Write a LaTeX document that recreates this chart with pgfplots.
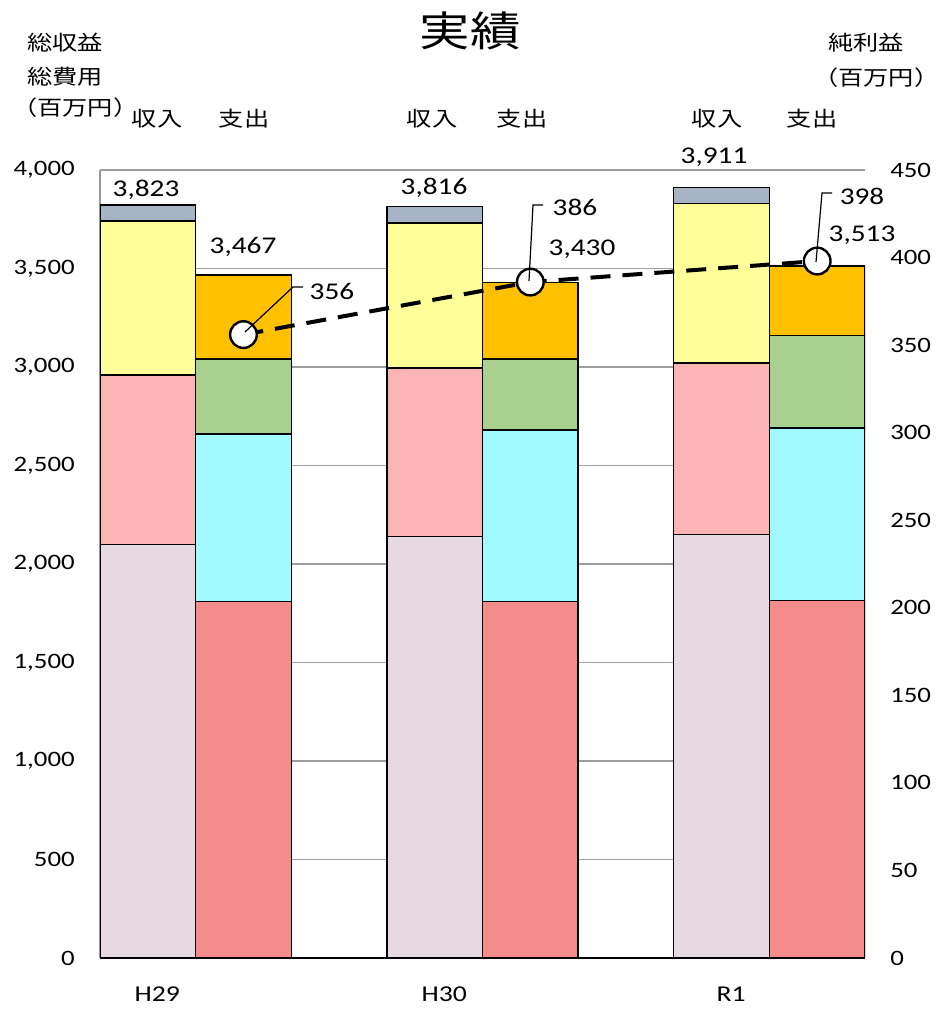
\documentclass[border=0pt]{standalone}
\usepackage{fontspec}
\setmainfont{Carlito}[FakeStretch=1.22]
\newfontfamily\jp{Noto Sans CJK JP}[FakeStretch=1.22]
\usepackage{pgfplots}
\pgfplotsset{compat=1.18}
\definecolor{cLav}{RGB}{231,217,225}
\definecolor{cPink}{RGB}{250,180,180}
\definecolor{cYel}{RGB}{255,255,153}
\definecolor{cGray}{RGB}{166,180,198}
\definecolor{cRed}{RGB}{244,140,140}
\definecolor{cCyan}{RGB}{160,250,255}
\definecolor{cGreen}{RGB}{169,208,142}
\definecolor{cOrange}{RGB}{255,192,0}
\begin{document}
\begin{tikzpicture}
\useasboundingbox (0,0) rectangle (712.5pt,756.75pt);
\begin{axis}[
  at={(75pt,38.25pt)}, anchor=south west,
  scale only axis, width=573.75pt, height=591pt,
  ybar stacked, bar width=1,
  xmin=0, xmax=8, ymin=0, ymax=4000,
  axis x line*=bottom, axis y line*=left,
  x axis line style={black, line width=1.3pt, -},
  y axis line style={black!40, line width=1pt, -},
  xtick={0.6,3.6,6.6}, xticklabels={H29,H30,R1},
  major tick length=0pt,
  ytick={0,500,...,4000},
  ymajorgrids, grid style={black!38, line width=1.1pt},
  /pgf/number format/assume math mode=true,
  /pgf/number format/1000 sep={,},
  yticklabel style={font=\fontsize{16.5}{18}\selectfont, anchor=east, inner sep=0pt, xshift=-18.75pt},
  xticklabel style={font=\fontsize{17}{18}\selectfont, anchor=north, inner sep=0pt, yshift=-21.5pt},
  every axis plot/.append style={draw=black, line width=1.1pt},
]
% x positions: 0.5 H29 income, 1.5 H29 expense, 3.5 H30 income, 4.5 H30 expense, 6.5 R1 income, 7.5 R1 expense
\addplot[fill=cLav]   coordinates {(0.5,2100)(1.5,0)(3.5,2140)(4.5,0)(6.5,2150)(7.5,0)};
\addplot[fill=cPink]  coordinates {(0.5,860)(1.5,0)(3.5,855)(4.5,0)(6.5,870)(7.5,0)};
\addplot[fill=cYel]   coordinates {(0.5,780)(1.5,0)(3.5,735)(4.5,0)(6.5,810)(7.5,0)};
\addplot[fill=cGray]  coordinates {(0.5,83)(1.5,0)(3.5,86)(4.5,0)(6.5,81)(7.5,0)};
\addplot[fill=cRed]   coordinates {(0.5,0)(1.5,1810)(3.5,0)(4.5,1810)(6.5,0)(7.5,1815)};
\addplot[fill=cCyan]  coordinates {(0.5,0)(1.5,850)(3.5,0)(4.5,870)(6.5,0)(7.5,875)};
\addplot[fill=cGreen] coordinates {(0.5,0)(1.5,380)(3.5,0)(4.5,360)(6.5,0)(7.5,470)};
\addplot[fill=cOrange] coordinates {(0.5,0)(1.5,427)(3.5,0)(4.5,390)(6.5,0)(7.5,353)};
\end{axis}
\begin{axis}[
  at={(75pt,38.25pt)}, anchor=south west,
  scale only axis, width=573.75pt, height=591pt,
  xmin=0, xmax=8, ymin=0, ymax=450,
  axis x line=none, axis y line*=right,
  y axis line style={draw=none},
  major tick length=0pt,
  ytick={0,50,...,450},
  /pgf/number format/assume math mode=true,
  yticklabel style={font=\fontsize{16.5}{18}\selectfont, anchor=west, inner sep=0pt, xshift=18.75pt},
]
\addplot[black, line width=3pt, dash pattern=on 15pt off 9pt,
  mark=*, mark size=10pt, mark options={solid, fill=white, draw=black, line width=1.8pt}]
  coordinates {(1.5,356)(4.5,386)(7.5,398)};
\end{axis}
\begin{scope}[x=0.75pt, y=-0.75pt, yshift=756.75pt]
  % title and axis titles
  \node[font=\jp\fontsize{31}{33}\selectfont] at (470,31) {実績};
  \node[font=\jp\fontsize{15.5}{17}\selectfont, anchor=west, inner sep=0pt] at (27,43) {総収益};
  \node[font=\jp\fontsize{15.5}{17}\selectfont, anchor=west, inner sep=0pt] at (27,77) {総費用};
  \node[font=\jp\fontsize{15.5}{17}\selectfont, anchor=west, inner sep=0pt] at (12,108) {（百万円）};
  \node[font=\jp\fontsize{15.5}{17}\selectfont, anchor=west, inner sep=0pt] at (828,43) {純利益};
  \node[font=\jp\fontsize{15.5}{17}\selectfont, anchor=west, inner sep=0pt] at (813,78) {（百万円）};
  % column headers
  \foreach \x/\t in {157/収入,244/支出,432/収入,522/支出,717/収入,812/支出}
    \node[font=\jp\fontsize{15.5}{17}\selectfont] at (\x,119) {\t};
  % totals
  \node[font=\fontsize{18}{20}\selectfont] at (146,190) {3,823};
  \node[font=\fontsize{18}{20}\selectfont] at (243,247) {3,467};
  \node[font=\fontsize{18}{20}\selectfont] at (434,188) {3,816};
  \node[font=\fontsize{18}{20}\selectfont] at (582,249) {3,430};
  \node[font=\fontsize{18}{20}\selectfont] at (714,157) {3,911};
  \node[font=\fontsize{18}{20}\selectfont] at (862,235) {3,513};
  % net profit labels with leaders
  \draw[black, line width=0.9pt] (245,332) -- (293,287) -- (303,287);
  \draw[black, line width=0.9pt] (529,281) -- (533,205) -- (543,205);
  \draw[black, line width=0.9pt] (816,262) -- (822,193) -- (832,193);
  \node[font=\fontsize{18}{20}\selectfont] at (332,291) {356};
  \node[font=\fontsize{18}{20}\selectfont] at (575,207) {386};
  \node[font=\fontsize{18}{20}\selectfont] at (862,196) {398};
\end{scope}
\end{tikzpicture}
\end{document}
